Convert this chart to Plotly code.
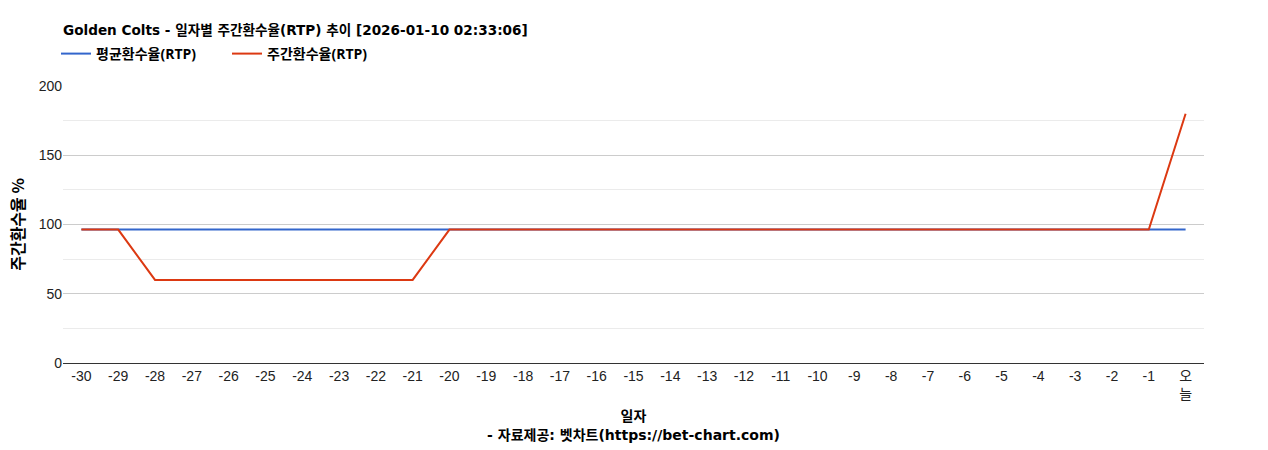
import plotly.graph_objects as go

# x categories: days before today, last one is "today"
days = [str(d) for d in range(-30, 0)] + ["오늘"]
day_labels = [str(d) for d in range(-30, 0)] + ["오<br>늘"]

avg_rtp = [96.3] * 31
weekly_rtp = [96.3, 96.3] + [60.0] * 8 + [96.3] * 20 + [180.0]

BLUE = "#3366cc"
RED = "#dc3912"
FONT = "Liberation Sans, Arial, Noto Sans CJK KR, sans-serif"
WIDE_BOLD = "DejaVu Sans, Noto Sans CJK KR, sans-serif"

W, H = 1268, 450
L, T, PW, PH = 63, 86, 1141, 277

fig = go.Figure()
fig.add_trace(go.Scatter(
    x=days, y=avg_rtp, mode="lines", name="평균환수율(RTP)",
    line=dict(color=BLUE, width=2),
))
fig.add_trace(go.Scatter(
    x=days, y=weekly_rtp, mode="lines", name="주간환수율(RTP)",
    line=dict(color=RED, width=2),
))

fig.update_layout(
    width=W, height=H,
    margin=dict(l=L, r=W - L - PW, t=T, b=H - T - PH),
    paper_bgcolor="white", plot_bgcolor="white",
    font=dict(family=FONT, size=14, color="#222"),
    title=dict(
        text="<b>Golden Colts - 일자별 주간환수율(RTP) 추이 [2026-01-10 02:33:06]</b>",
        x=0, xref="paper", xanchor="left",
        y=1 - 30 / H, yref="container", yanchor="middle",
        font=dict(family=WIDE_BOLD, size=13.6, color="#000"),
    ),
    legend=dict(
        orientation="h", x=-7 / PW, xanchor="left",
        y=(T + PH - 54) / PH, yanchor="middle",
        font=dict(family="Open Sans, Noto Sans CJK KR", size=14, color="#000", weight="bold"),
        itemwidth=30, tracegroupgap=0,
        entrywidth=126, entrywidthmode="pixels",
    ),
    showlegend=True,
    hovermode=False,
)

fig.update_xaxes(
    type="category",
    tickmode="array", tickvals=days, ticktext=day_labels,
    range=[-0.5, 30.5],
    showgrid=False, zeroline=False,
    showline=True, linecolor="#333", linewidth=1,
    ticks="", tickfont=dict(family=FONT, size=14, color="#222"),
    automargin=False,
    title=dict(
        text="<b>일자</b><br><b>- 자료제공: 벳차트(https://bet-chart.com)</b>",
        font=dict(family=WIDE_BOLD, size=14, color="#000"),
        standoff=10,
    ),
)
fig.update_yaxes(
    range=[0, 200], dtick=50, tick0=0,
    showgrid=True, gridcolor="#cccccc", gridwidth=1,
    minor=dict(dtick=25, showgrid=True, gridcolor="#ebebeb"),
    zeroline=False, showline=False,
    ticks="", tickfont=dict(family=FONT, size=14, color="#222"),
    automargin=False,
    title=dict(
        text="<b>주간환수율 %</b>",
        font=dict(family="Noto Sans CJK KR", size=16, color="#000"),
        standoff=10,
    ),
)

# the page opens with the browser's default 8px body margin; drop it
fig.write_html(
    "out.html",
    config={"displayModeBar": False},
    post_script="document.body.style.margin='0';",
)
